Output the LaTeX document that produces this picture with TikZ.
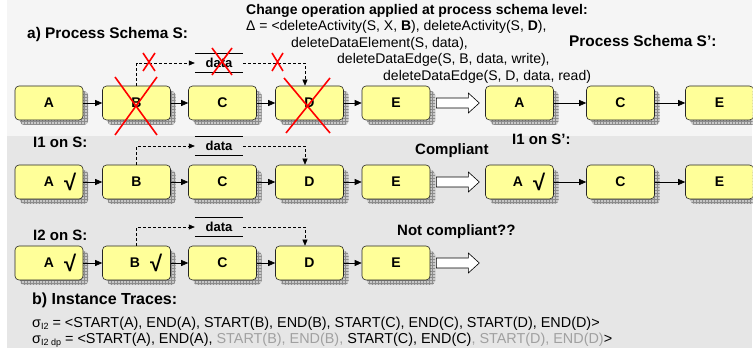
\documentclass[tikz,border=0pt]{standalone}
\usepackage{fontspec}
\setmainfont{Liberation Sans}
\usetikzlibrary{arrows.meta,patterns,shadows,calc}

\definecolor{panelA}{HTML}{F5F5F5}
\definecolor{panelB}{HTML}{E6E6E6}
\definecolor{actfill}{HTML}{FFFF99}
\definecolor{shadowgray}{HTML}{C8C8C8}
\definecolor{tracegray}{HTML}{A0A0A0}

% check mark placed right of an activity label without moving the label
\newcommand\chkmark{\rlap{\hspace{10pt}\raisebox{-4pt}{\fontsize{22}{22}\selectfont\bfseries √}}}
\newcommand\subidx[1]{\raisebox{-2.5pt}{\fontsize{9}{9}\selectfont #1}}

\begin{document}
\begin{tikzpicture}[x=1pt,y=-1pt,
  act/.style={draw=black!85, line width=0.6pt, fill=actfill, rounded corners=4pt,
    minimum width=68pt, minimum height=34pt, inner sep=0pt,
    font=\fontsize{14}{16}\selectfont\bfseries,
    general shadow={fill=shadowgray, shadow xshift=5pt, shadow yshift=-5pt},
    general shadow={pattern=grid, pattern color=black!45, shadow xshift=5pt, shadow yshift=-5pt}},
  flow/.style={-{Triangle[length=7pt,width=6pt]}, line width=0.6pt},
  dataflow/.style={-{Triangle[length=6pt,width=5pt]}, line width=0.6pt, dash pattern=on 3pt off 2pt},
  dataobj/.style={minimum width=48pt, minimum height=19pt, inner sep=0pt,
    font=\fontsize{13}{15}\selectfont\bfseries},
  datalines/.style={line width=0.6pt},
  cross/.style={red, line width=1.6pt},
  head/.style={anchor=base west, inner sep=0pt, font=\fontsize{15}{18}\selectfont\bfseries},
  op/.style={anchor=base west, inner sep=0pt, font=\fontsize{14}{16}\selectfont},
  trace/.style={anchor=base west, inner sep=0pt, font=\fontsize{14.4}{16}\selectfont},
  blockarrow/.style={draw=black, line width=0.6pt, fill=white},
]
\useasboundingbox (0,0) rectangle (754,352);
\clip (0,0) rectangle (752.5,352);

% panels
\fill[panelA] (7,0) rectangle (752,136);
\fill[panelB] (7,136) rectangle (752,348);

% ---------- a) process schema S ----------
\node[head, font=\fontsize{15.4}{18}\selectfont\bfseries] (tA) at (27,39) {a) Process Schema S:};
\node[head, font=\fontsize{14}{16}\selectfont\bfseries] (tChg) at (246,15) {Change operation applied at process schema level:};
\node[op] (op1) at (246,31) {Δ = <deleteActivity(S, X, \textbf{B}), deleteActivity(S, \textbf{D}),};
\node[op] (op2) at (291,47.5) {deleteDataElement(S, data),};
\node[op] (op3) at (337,64) {deleteDataEdge(S, B, data, write),};
\node[op] (op4) at (383,80.5) {deleteDataEdge(S, D, data, read)};
\node[head, font=\fontsize{15.4}{18}\selectfont\bfseries] (tS2) at (569,47) {Process Schema S’:};

\node[act] (a1) at (49,103) {A};
\node[act] (b1) at (136.5,103) {B};
\node[act] (c1) at (222.5,103) {C};
\node[act] (d1) at (309.5,103) {D};
\node[act] (e1) at (396,103) {E};
\node[act] (a1p) at (519.5,103) {A};
\node[act] (c1p) at (620.5,103) {C};
\node[act] (e1p) at (719.5,103) {E};

\node[dataobj] (data1) at (219,63) {data};
\draw[datalines] (data1.north west) -- (data1.north east) (data1.south west) -- (data1.south east);
\draw[dataflow] (b1.north) |- (data1.west);
\draw[dataflow] (data1.east) -| ([xshift=-4.5pt]d1.north);

\draw[flow] (a1) -- (b1);
\draw[flow] (b1) -- (c1);
\draw[flow] (c1) -- (d1);
\draw[flow] (d1) -- (e1);
\draw[flow] (a1p) -- (c1p);
\draw[flow] (c1p) -- (e1p);
\draw[blockarrow] ($(e1.east)+(6,-5)$) -- ++(32,0) -- ++(0,-5) -- ++(11,10)
  -- ++(-11,10) -- ++(0,-5) -- ++(-32,0) -- cycle;

% deletions
\draw[cross] (115,77) -- (157,135) (157,77) -- (115,135);
\draw[cross] (284,78) -- (330,133) (330,78) -- (286,133);
\draw[cross] (212,48) -- (232,75) (232,48) -- (212,75);
\draw[cross] (143,53) -- (155,71) (155,53) -- (143,71);
\draw[cross] (272,53) -- (283,71) (283,53) -- (272,71);

% ---------- instance I1 ----------
\node[head] (tI1) at (33,148) {I1 on S:};
\node[head] (tComp) at (415,155) {Compliant};
\node[head] (tI1p) at (512,145) {I1 on S’:};

\node[act] (a2) at (49,182) {A\chkmark};
\node[act] (b2) at (136.5,182) {B};
\node[act] (c2) at (222.5,182) {C};
\node[act] (d2) at (309.5,182) {D};
\node[act] (e2) at (396,182) {E};
\node[act] (a2p) at (519.5,182) {\hspace*{-3pt}A\chkmark};
\node[act] (c2p) at (620.5,182) {C};
\node[act] (e2p) at (719.5,182) {E};

\node[dataobj] (data2) at (219,146) {data};
\draw[datalines] (data2.north west) -- (data2.north east) (data2.south west) -- (data2.south east);
\draw[dataflow] (b2.north) |- (data2.west);
\draw[dataflow] (data2.east) -| ([xshift=-4.5pt]d2.north);

\draw[flow] (a2) -- (b2);
\draw[flow] (b2) -- (c2);
\draw[flow] (c2) -- (d2);
\draw[flow] (d2) -- (e2);
\draw[flow] (a2p) -- (c2p);
\draw[flow] (c2p) -- (e2p);
\draw[blockarrow] ($(e2.east)+(6,-5)$) -- ++(32,0) -- ++(0,-5) -- ++(11,10)
  -- ++(-11,10) -- ++(0,-5) -- ++(-32,0) -- cycle;

% ---------- instance I2 ----------
\node[head] (tI2) at (33,241) {I2 on S:};
\node[head] (tNot) at (397,236) {Not compliant??};

\node[act] (a3) at (49,263) {A\chkmark};
\node[act] (b3) at (136.5,263) {\hspace*{-3pt}B\chkmark};
\node[act] (c3) at (222.5,263) {C};
\node[act] (d3) at (309.5,263) {D};
\node[act] (e3) at (396,263) {E};

\node[dataobj] (data3) at (219,227) {data};
\draw[datalines] (data3.north west) -- (data3.north east) (data3.south west) -- (data3.south east);
\draw[dataflow] (b3.north) |- (data3.west);
\draw[dataflow] (data3.east) -| ([xshift=-4.5pt]d3.north);

\draw[flow] (a3) -- (b3);
\draw[flow] (b3) -- (c3);
\draw[flow] (c3) -- (d3);
\draw[flow] (d3) -- (e3);
\draw[blockarrow] ($(e3.east)+(6,-5)$) -- ++(32,0) -- ++(0,-5) -- ++(11,10)
  -- ++(-11,10) -- ++(0,-5) -- ++(-32,0) -- cycle;

% ---------- b) instance traces ----------
\node[head, font=\fontsize{16}{18}\selectfont\bfseries] (tB) at (32,305) {b) Instance Traces:};
\node[trace] (tr1) at (32,327) {σ\subidx{I2} = <START(A), END(A), START(B), END(B), START(C), END(C), START(D), END(D)>};
\node[trace] (tr2) at (32,343) {σ\subidx{I2 dp} = <START(A), END(A), \textcolor{tracegray}{START(B), END(B),} START(C), END(C)\textcolor{tracegray}{, START(D), END(D)}>};
\end{tikzpicture}
\end{document}
